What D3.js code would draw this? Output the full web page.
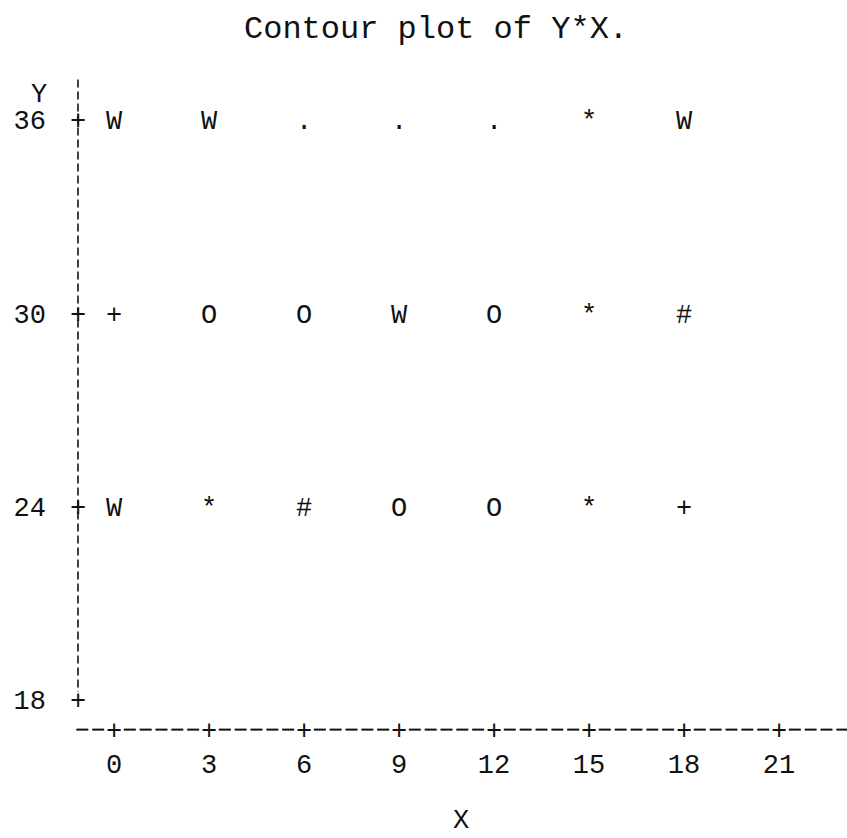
<!DOCTYPE html>
<html>
<head>
<meta charset="utf-8">
<script src="https://cdn.jsdelivr.net/npm/d3@7"></script>
<style>
  body { margin: 0; background: #fff; }
  text { font-family: "Liberation Mono", "DejaVu Sans Mono", monospace; fill: #111; }
</style>
</head>
<body>
<svg id="chart" width="847" height="838"></svg>
<script>
// values
const xValues = [0, 3, 6, 9, 12, 15, 18];
const xTicks = [0, 3, 6, 9, 12, 15, 18, 21];
const yTicks = [18, 24, 30, 36];
const rowY = [36, 30, 24];
const row36 = ["W", "W", ".", ".", ".", "*", "W"];
const row30 = ["+", "O", "O", "W", "O", "*", "#"];
const row24 = ["W", "*", "#", "O", "O", "*", "+"];
const rows = [row36, row30, row24];

const width = 847;
const svg = d3.select("#chart");

const x = d3.scaleLinear().domain([0, 21]).range([114, 779]);
const y = d3.scaleLinear().domain([18, 36]).range([700, 120]);
const line = 6 / 7; // one printer line in y units
const slot = 0.5;   // one printer column in x units
const axisX = 78;

// title
svg.append("text")
  .attr("x", 436).attr("y", 27).attr("dy", "0.35em")
  .attr("text-anchor", "middle")
  .style("font-size", "32px")
  .text("Contour plot of Y*X.");

// y axis: dashed rule with + at ticks
svg.append("line")
  .attr("x1", axisX).attr("x2", axisX)
  .attr("y1", y(36 + line) - 13).attr("y2", y(18) - 8)
  .attr("stroke", "#111").attr("stroke-width", 1.6)
  .attr("stroke-dasharray", "8,4");

svg.append("text")
  .attr("x", 39).attr("y", y(36 + line)).attr("dy", "0.35em")
  .attr("text-anchor", "middle")
  .style("font-size", "27px")
  .text("Y");

const yg = svg.append("g").style("font-size", "27px");
yg.selectAll(".ylab").data(yTicks).join("text")
  .attr("class", "ylab")
  .attr("x", 46).attr("y", d => y(d)).attr("dy", "0.35em")
  .attr("text-anchor", "end")
  .text(d => d);
yg.selectAll(".yplus").data(yTicks).join("text")
  .attr("class", "yplus")
  .attr("x", axisX).attr("y", d => y(d)).attr("dy", "0.35em")
  .attr("text-anchor", "middle")
  .text("+");

// x axis: a dash in every column, + at ticks
const axisY = y(18 - line) + 2;
const cols = d3.range(-1, 24.01, slot).filter(v => x(v) < width + 8);
const xg = svg.append("g");
xg.selectAll("line").data(cols.filter(v => !xTicks.includes(v))).join("line")
  .attr("x1", d => x(d) - 6).attr("x2", d => x(d) + 6)
  .attr("y1", axisY).attr("y2", axisY)
  .attr("stroke", "#111").attr("stroke-width", 2);
xg.selectAll(".xplus").data(xTicks).join("text")
  .attr("class", "xplus")
  .attr("x", d => x(d)).attr("y", axisY).attr("dy", "0.35em")
  .attr("text-anchor", "middle")
  .style("font-size", "27px")
  .text("+");
xg.selectAll(".xlab").data(xTicks).join("text")
  .attr("class", "xlab")
  .attr("x", d => x(d)).attr("y", axisY + 34).attr("dy", "0.35em")
  .attr("text-anchor", "middle")
  .style("font-size", "27px")
  .text(d => d);

svg.append("text")
  .attr("x", 461).attr("y", axisY + 89).attr("dy", "0.35em")
  .attr("text-anchor", "middle")
  .style("font-size", "27px")
  .text("X");

// contour symbols
rows.forEach((row, i) => {
  svg.append("g").selectAll("text").data(row).join("text")
    .attr("x", (d, j) => x(xValues[j]))
    .attr("y", y(rowY[i])).attr("dy", "0.35em")
    .attr("text-anchor", "middle")
    .style("font-size", "27px")
    .text(d => d);
});
</script>
</body>
</html>
